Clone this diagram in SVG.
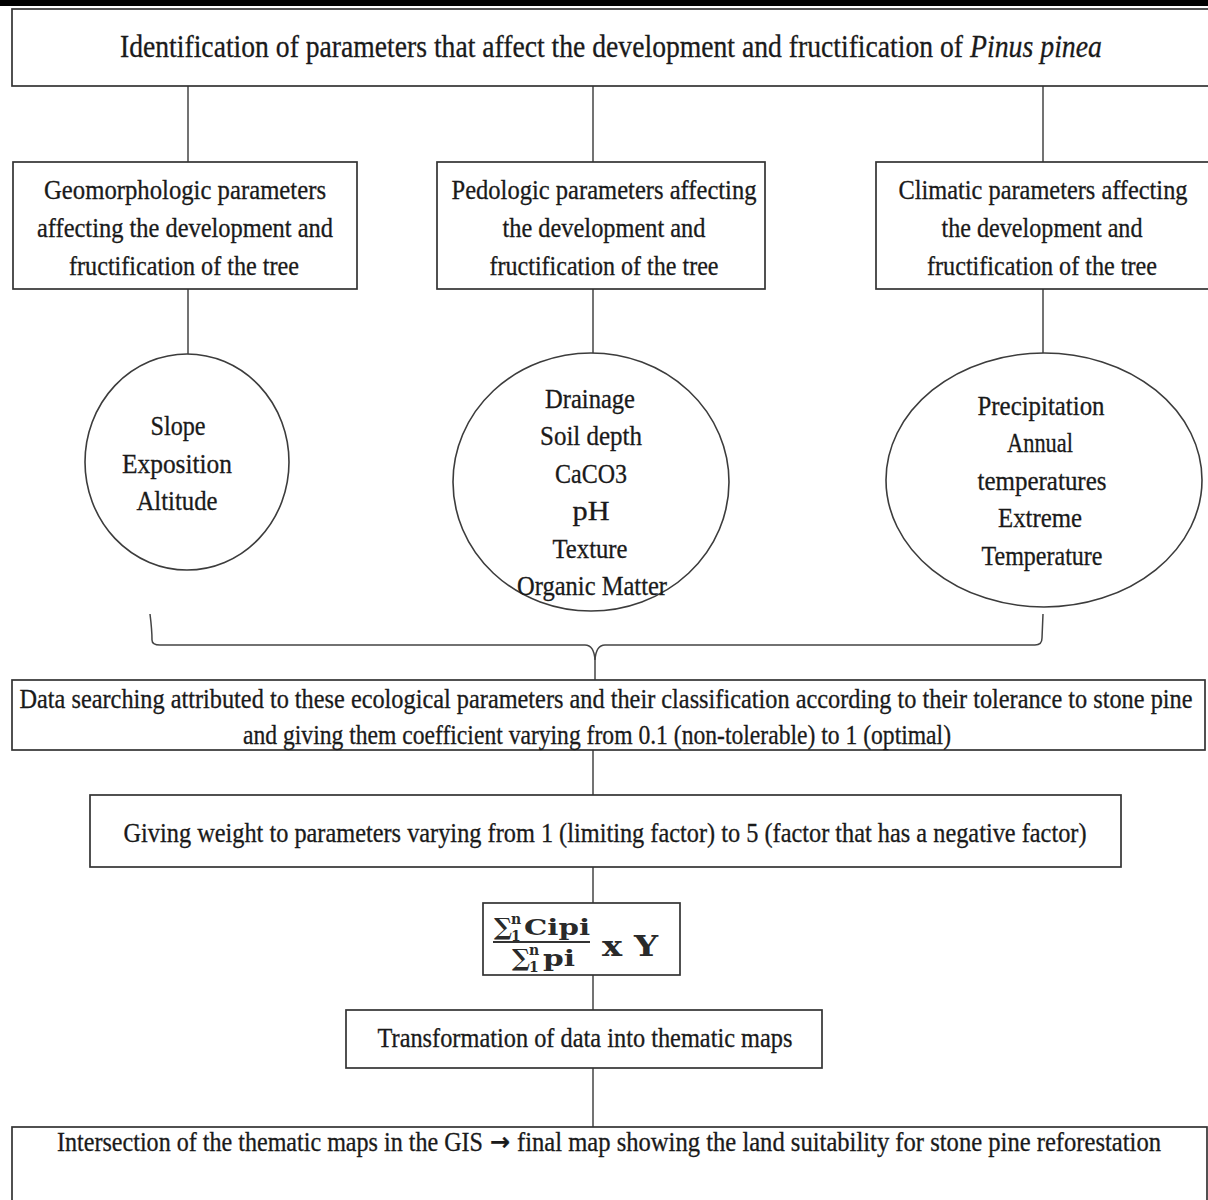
<svg xmlns="http://www.w3.org/2000/svg" width="1208" height="1200" viewBox="0 0 1208 1200">
<style>
.box{fill:#fff;stroke:#333;stroke-width:1.7}
.ell{fill:#fff;stroke:#3c3c3c;stroke-width:1.6}
.t{font-family:"Liberation Serif","Times New Roman",serif;font-size:27px;fill:#1a1a1a;stroke:#1a1a1a;stroke-width:0.3;text-anchor:middle}
.s{text-anchor:start}
.f{font-family:"DejaVu Serif","Liberation Serif",serif;font-weight:bold;fill:#2a2a2a}
.c{stroke:#444;stroke-width:1.5;fill:none}
</style>
<rect x="0" y="0" width="1208" height="1200" fill="#fff"/>
<rect x="0" y="0" width="1208" height="6" fill="#000"/>
<g id="connectors">
<line class="c" x1="188" y1="86" x2="188" y2="162"/>
<line class="c" x1="593" y1="86" x2="593" y2="162"/>
<line class="c" x1="1043" y1="86" x2="1043" y2="162"/>
<line class="c" x1="188" y1="289" x2="188" y2="354"/>
<line class="c" x1="593" y1="289" x2="593" y2="353"/>
<line class="c" x1="1043" y1="289" x2="1043" y2="353"/>
<path class="c" d="M150,614 Q152,630 152,640 Q152,645 160,645 L585,645 Q594,645 595,660 Q596,645 605,645 L1035,645 Q1042,645 1042,638 L1043,614"/>
<line class="c" x1="595" y1="655" x2="595" y2="680"/>
<line class="c" x1="593" y1="750" x2="593" y2="795"/>
<line class="c" x1="593" y1="867" x2="593" y2="903"/>
<line class="c" x1="593" y1="975" x2="593" y2="1010"/>
<line class="c" x1="593" y1="1068" x2="593" y2="1127"/>
</g>
<g id="title">
<rect class="box" x="12" y="9" width="1205" height="77"/>
<text class="t s" x="120" y="57" style="font-size:32px" textLength="843" lengthAdjust="spacingAndGlyphs">Identification of parameters that affect the development and fructification of</text>
<text class="t s" x="970" y="57" style="font-size:32px;font-style:italic" textLength="132" lengthAdjust="spacingAndGlyphs">Pinus pinea</text>
</g>
<g id="geomorphologic">
<rect class="box" x="13" y="162" width="344" height="127"/>
<text class="t" x="185" y="199" textLength="282" lengthAdjust="spacingAndGlyphs">Geomorphologic parameters</text>
<text class="t" x="185" y="237" textLength="296" lengthAdjust="spacingAndGlyphs">affecting the development and</text>
<text class="t" x="184" y="275" textLength="230" lengthAdjust="spacingAndGlyphs">fructification of the tree</text>
</g>
<g id="pedologic">
<rect class="box" x="437" y="162" width="328" height="127"/>
<text class="t" x="604" y="199" textLength="305" lengthAdjust="spacingAndGlyphs">Pedologic parameters affecting</text>
<text class="t" x="604" y="237" textLength="203" lengthAdjust="spacingAndGlyphs">the development and</text>
<text class="t" x="604" y="275" textLength="229" lengthAdjust="spacingAndGlyphs">fructification of the tree</text>
</g>
<g id="climatic">
<rect class="box" x="876" y="162" width="340" height="127"/>
<text class="t" x="1043" y="199" textLength="289" lengthAdjust="spacingAndGlyphs">Climatic parameters affecting</text>
<text class="t" x="1042" y="237" textLength="201" lengthAdjust="spacingAndGlyphs">the development and</text>
<text class="t" x="1042" y="275" textLength="230" lengthAdjust="spacingAndGlyphs">fructification of the tree</text>
</g>
<g id="geo-params">
<ellipse class="ell" cx="187" cy="462" rx="102" ry="108"/>
<text class="t" x="178" y="435" textLength="55" lengthAdjust="spacingAndGlyphs">Slope</text>
<text class="t" x="177" y="473" textLength="110" lengthAdjust="spacingAndGlyphs">Exposition</text>
<text class="t" x="177" y="510" textLength="81" lengthAdjust="spacingAndGlyphs">Altitude</text>
</g>
<g id="pedo-params">
<ellipse class="ell" cx="591" cy="482" rx="138" ry="129"/>
<text class="t" x="590" y="408" textLength="90" lengthAdjust="spacingAndGlyphs">Drainage</text>
<text class="t" x="591" y="445" textLength="102" lengthAdjust="spacingAndGlyphs">Soil depth</text>
<text class="t" x="591" y="483" textLength="72" lengthAdjust="spacingAndGlyphs">CaCO3</text>
<text class="t" x="591" y="520" textLength="37" lengthAdjust="spacingAndGlyphs">pH</text>
<text class="t" x="590" y="558" textLength="75" lengthAdjust="spacingAndGlyphs">Texture</text>
<text class="t" x="592" y="595" textLength="150" lengthAdjust="spacingAndGlyphs">Organic Matter</text>
</g>
<g id="clim-params">
<ellipse class="ell" cx="1044" cy="480" rx="158" ry="127"/>
<text class="t" x="1041" y="415" textLength="127" lengthAdjust="spacingAndGlyphs">Precipitation</text>
<text class="t" x="1040" y="452" textLength="66" lengthAdjust="spacingAndGlyphs">Annual</text>
<text class="t" x="1042" y="490" textLength="129" lengthAdjust="spacingAndGlyphs">temperatures</text>
<text class="t" x="1040" y="527" textLength="84" lengthAdjust="spacingAndGlyphs">Extreme</text>
<text class="t" x="1042" y="565" textLength="121" lengthAdjust="spacingAndGlyphs">Temperature</text>
</g>
<g id="data-search">
<rect class="box" x="12" y="680" width="1193" height="70"/>
<text class="t" x="606" y="708" textLength="1173" lengthAdjust="spacingAndGlyphs">Data searching attributed to these ecological parameters and their classification according to their tolerance to stone pine</text>
<text class="t" x="597" y="744" textLength="708" lengthAdjust="spacingAndGlyphs">and giving them coefficient varying from 0.1 (non-tolerable) to 1 (optimal)</text>
</g>
<g id="weight">
<rect class="box" x="90" y="795" width="1031" height="72"/>
<text class="t" x="605" y="842" textLength="963" lengthAdjust="spacingAndGlyphs">Giving weight to parameters varying from 1 (limiting factor) to 5 (factor that has a negative factor)</text>
</g>
<g id="formula">
<rect class="box" x="483" y="903" width="197" height="72"/>
<text class="f" x="494" y="935" style="font-size:24px">∑</text>
<text class="f" x="511" y="924" style="font-size:14px">n</text>
<text class="f" x="511" y="941" style="font-size:14px">1</text>
<text class="f" x="524" y="935" style="font-size:22px" textLength="66" lengthAdjust="spacingAndGlyphs">Cipi</text>
<line x1="493" y1="942" x2="590" y2="942" stroke="#333" stroke-width="2"/>
<text class="f" x="512" y="966" style="font-size:24px">∑</text>
<text class="f" x="529" y="955" style="font-size:14px">n</text>
<text class="f" x="529" y="972" style="font-size:14px">1</text>
<text class="f" x="543" y="966" style="font-size:22px" textLength="32" lengthAdjust="spacingAndGlyphs">pi</text>
<text class="f" x="602" y="956" style="font-size:28px" textLength="56" lengthAdjust="spacingAndGlyphs">x Y</text>
</g>
<g id="transformation">
<rect class="box" x="346" y="1010" width="476" height="58"/>
<text class="t" x="585" y="1047" textLength="415" lengthAdjust="spacingAndGlyphs">Transformation of data into thematic maps</text>
</g>
<g id="intersection">
<rect class="box" x="12" y="1127" width="1195" height="80"/>
<text class="t s" x="57" y="1151" textLength="426" lengthAdjust="spacingAndGlyphs">Intersection of the thematic maps in the GIS</text>
<text class="t" x="500" y="1150" style="font-family:'DejaVu Sans',sans-serif;font-weight:bold;font-size:24px">→</text>
<text class="t s" x="517" y="1151" textLength="644" lengthAdjust="spacingAndGlyphs">final map showing the land suitability for stone pine reforestation</text>
</g>
</svg>
